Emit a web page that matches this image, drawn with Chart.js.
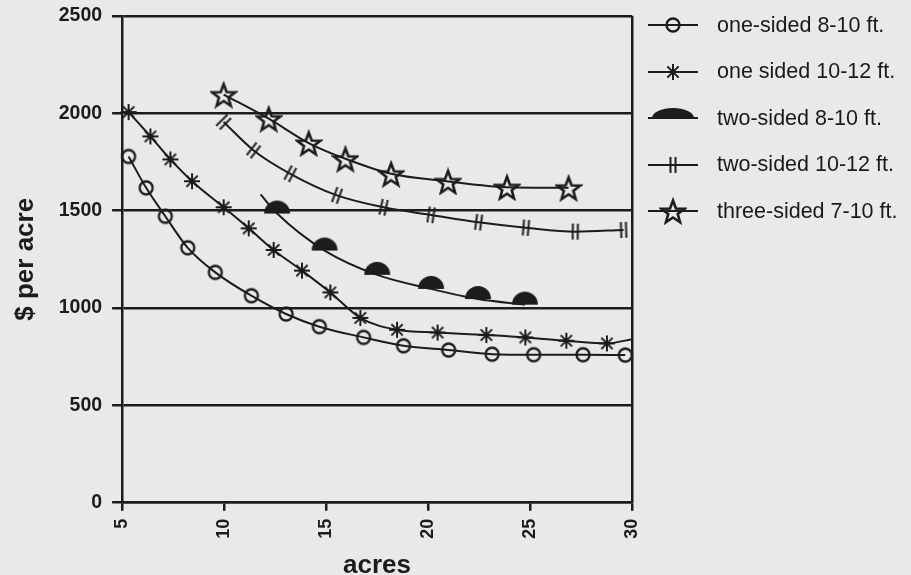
<!DOCTYPE html>
<html>
<head>
<meta charset="utf-8">
<script src="https://cdn.jsdelivr.net/npm/chart.js@4.4.0/dist/chart.umd.min.js"></script>
<style>
  html, body { margin: 0; padding: 0; background: #e9e9e9; }
  #wrap { position: relative; width: 911px; height: 575px; }
  #legende { position: absolute; left: 647px; top: 2px; font: 21.5px "Liberation Sans", Arial, sans-serif; color: #1a1a1a; }
  .zeile { display: flex; align-items: center; height: 46.5px; }
  .zeile canvas { margin-right: 18px; }
</style>
</head>
<body>
<div id="wrap">
  <canvas id="chart"></canvas>
  <div id="legende"></div>
</div>
<script>
// Werte (acres / $ per acre)
const xTicks = [5, 10, 15, 20, 25, 30];
const yTicks = [0, 500, 1000, 1500, 2000, 2500];

const namen = ["one-sided 8-10 ft.", "one sided 10-12 ft.", "two-sided 8-10 ft.", "two-sided 10-12 ft.", "three-sided 7-10 ft."];

const acresEinseitig810 = [5.32, 6.18, 7.12, 8.22, 9.57, 11.34, 13.04, 14.67, 16.84, 18.8, 21.01, 23.14, 25.18, 27.6, 29.67];
const dollarEinseitig810 = [1778, 1617, 1471, 1309, 1183, 1063, 969, 904, 849, 806, 784, 763, 760, 760, 758];

// letzter Punkt: Linie läuft ohne Marker bis zum Rand
const acresEinseitig1012 = [5.32, 6.39, 7.37, 8.43, 9.98, 11.21, 12.43, 13.82, 15.21, 16.68, 18.48, 20.47, 22.86, 24.77, 26.78, 28.77, 30];
const dollarEinseitig1012 = [2006, 1881, 1763, 1651, 1517, 1409, 1298, 1192, 1080, 949, 888, 874, 861, 849, 832, 818, 840];

// erster Punkt: Linienanfang ohne Marker
const acresZweiseitig810 = [11.79, 12.6, 14.93, 17.51, 20.15, 22.45, 24.75];
const dollarZweiseitig810 = [1583, 1485, 1295, 1170, 1098, 1046, 1017];

const acresZweiseitig1012 = [9.98, 11.45, 13.25, 15.54, 17.82, 20.15, 22.48, 24.8, 27.22, 29.59];
const dollarZweiseitig1012 = [1955, 1809, 1689, 1578, 1517, 1478, 1440, 1412, 1392, 1401];

const acresDreiseitig710 = [9.98, 12.19, 14.15, 15.95, 18.19, 20.98, 23.87, 26.89];
const dollarDreiseitig710 = [2096, 1972, 1847, 1766, 1689, 1650, 1620, 1617];

const TINTE = "#1c1c1c";

// Marker als kleine Canvas-Bilder
function markerCanvas(w, h, zeichne) {
  const c = document.createElement("canvas");
  c.width = w;
  c.height = h;
  const g = c.getContext("2d");
  g.strokeStyle = TINTE;
  g.fillStyle = TINTE;
  g.lineWidth = 2;
  zeichne(g, w / 2, h / 2);
  return c;
}

const kreis = markerCanvas(18, 18, (g, cx, cy) => {
  g.beginPath();
  g.arc(cx, cy, 6.5, 0, Math.PI * 2);
  g.lineWidth = 2.3;
  g.stroke();
});

const sternchen = markerCanvas(20, 20, (g, cx, cy) => {
  for (let i = 0; i < 4; i++) {
    const a = i * Math.PI / 4;
    g.beginPath();
    g.moveTo(cx - 8 * Math.cos(a), cy - 8 * Math.sin(a));
    g.lineTo(cx + 8 * Math.cos(a), cy + 8 * Math.sin(a));
    g.stroke();
  }
});

function kuppelCanvas(rx, ry) {
  return markerCanvas(rx * 2 + 4, ry * 2 + 4, (g, cx, cy) => {
    g.beginPath();
    g.ellipse(cx, cy, rx, ry, 0, Math.PI, Math.PI * 2);
    g.closePath();
    g.fill();
  });
}
const kuppel = kuppelCanvas(13, 13);
const kuppelLegende = kuppelCanvas(21, 10);

const doppelstrich = markerCanvas(16, 20, (g, cx, cy) => {
  [-2.5, 2.5].forEach(d => {
    g.beginPath();
    g.moveTo(cx + d, cy - 8);
    g.lineTo(cx + d, cy + 8);
    g.stroke();
  });
});

const stern = markerCanvas(28, 28, (g, cx, cy) => {
  g.beginPath();
  for (let i = 0; i < 10; i++) {
    const r = i % 2 ? 5 : 12;
    const a = -Math.PI / 2 + i * Math.PI / 5;
    g.lineTo(cx + r * Math.cos(a), cy + 1.5 + r * Math.sin(a));
  }
  g.closePath();
  g.lineWidth = 2.6;
  g.stroke();
});

function punkte(xs, ys) {
  return xs.map((x, i) => ({ x: x, y: ys[i] }));
}

function reihe(label, daten, marker, drehung, ohneMarker) {
  const leer = ohneMarker || [];
  return {
    label: label,
    data: daten,
    borderColor: TINTE,
    backgroundColor: TINTE,
    borderWidth: 2,
    pointStyle: marker,
    pointRadius: c => (leer.includes(c.dataIndex) ? 0 : 8),
    pointHoverRadius: c => (leer.includes(c.dataIndex) ? 0 : 8),
    pointRotation: drehung || 0,
    cubicInterpolationMode: "monotone",
    fill: false,
    clip: 14
  };
}

const data = {
  datasets: [
    reihe(namen[0], punkte(acresEinseitig810, dollarEinseitig810), kreis),
    reihe(namen[1], punkte(acresEinseitig1012, dollarEinseitig1012), sternchen, 0, [acresEinseitig1012.length - 1]),
    reihe(namen[2], punkte(acresZweiseitig810, dollarZweiseitig810), kuppel, 0, [0]),
    // Doppelstriche stehen quer zur Kurve
    reihe(namen[3], punkte(acresZweiseitig1012, dollarZweiseitig1012), doppelstrich, [45, 38, 28, 20, 12, 9, 8, 5, 1, -2]),
    reihe(namen[4], punkte(acresDreiseitig710, dollarDreiseitig710), stern)
  ]
};

const fettSchrift = { family: "'Liberation Sans', Arial, sans-serif", weight: "bold" };

const options = {
  responsive: true,
  maintainAspectRatio: false,
  animation: false,
  layout: { padding: { left: 10.5, right: 279, top: 10, bottom: 0 } },
  plugins: {
    legend: { display: false },
    tooltip: { enabled: false }
  },
  scales: {
    x: {
      type: "linear",
      min: xTicks[0],
      max: xTicks[xTicks.length - 1],
      afterBuildTicks: axis => { axis.ticks = xTicks.map(v => ({ value: v })); },
      ticks: {
        autoSkip: false,
        minRotation: 90,
        maxRotation: 90,
        padding: 8,
        color: TINTE,
        callback: v => String(v),
        font: Object.assign({ size: 18 }, fettSchrift)
      },
      grid: {
        color: c => (c.tick && c.tick.value === 30 ? TINTE : "rgba(0,0,0,0)"),
        tickColor: TINTE,
        lineWidth: 2.5,
        tickLength: 8
      },
      border: { display: true, color: TINTE, width: 2.5 },
      title: {
        display: true,
        text: "acres",
        color: TINTE,
        padding: { top: 9, bottom: 0 },
        font: Object.assign({ size: 26, lineHeight: 0.74 }, fettSchrift)
      }
    },
    y: {
      min: yTicks[0],
      max: yTicks[yTicks.length - 1],
      afterBuildTicks: axis => { axis.ticks = yTicks.map(v => ({ value: v })); },
      ticks: {
        padding: 10,
        color: TINTE,
        callback: v => String(v),
        font: Object.assign({ size: 19.5, lineHeight: 0.6 }, fettSchrift)
      },
      grid: { color: TINTE, lineWidth: 2.5, tickLength: 10 },
      border: { display: true, color: TINTE, width: 2.5 },
      title: {
        display: true,
        text: "$ per acre",
        color: TINTE,
        padding: { top: 0, bottom: 7 },
        font: Object.assign({ size: 26, lineHeight: 1.2 }, fettSchrift)
      }
    }
  }
};

new Chart(document.getElementById("chart").getContext("2d"), { type: "line", data: data, options: options });

// Legende rechts: Linie mit Marker in der Mitte
const legendenMarker = [kreis, sternchen, kuppelLegende, doppelstrich, stern];
const legende = document.getElementById("legende");
namen.forEach((name, i) => {
  const zeile = document.createElement("div");
  zeile.className = "zeile";
  const probe = document.createElement("canvas");
  probe.width = 52;
  probe.height = 30;
  const g = probe.getContext("2d");
  g.strokeStyle = TINTE;
  g.lineWidth = 2;
  g.beginPath();
  g.moveTo(1, 15);
  g.lineTo(51, 15);
  g.stroke();
  const m = legendenMarker[i];
  g.drawImage(m, 26 - m.width / 2, 15 - m.height / 2);
  const text = document.createElement("span");
  text.textContent = name;
  zeile.appendChild(probe);
  zeile.appendChild(text);
  legende.appendChild(zeile);
});
</script>
</body>
</html>
